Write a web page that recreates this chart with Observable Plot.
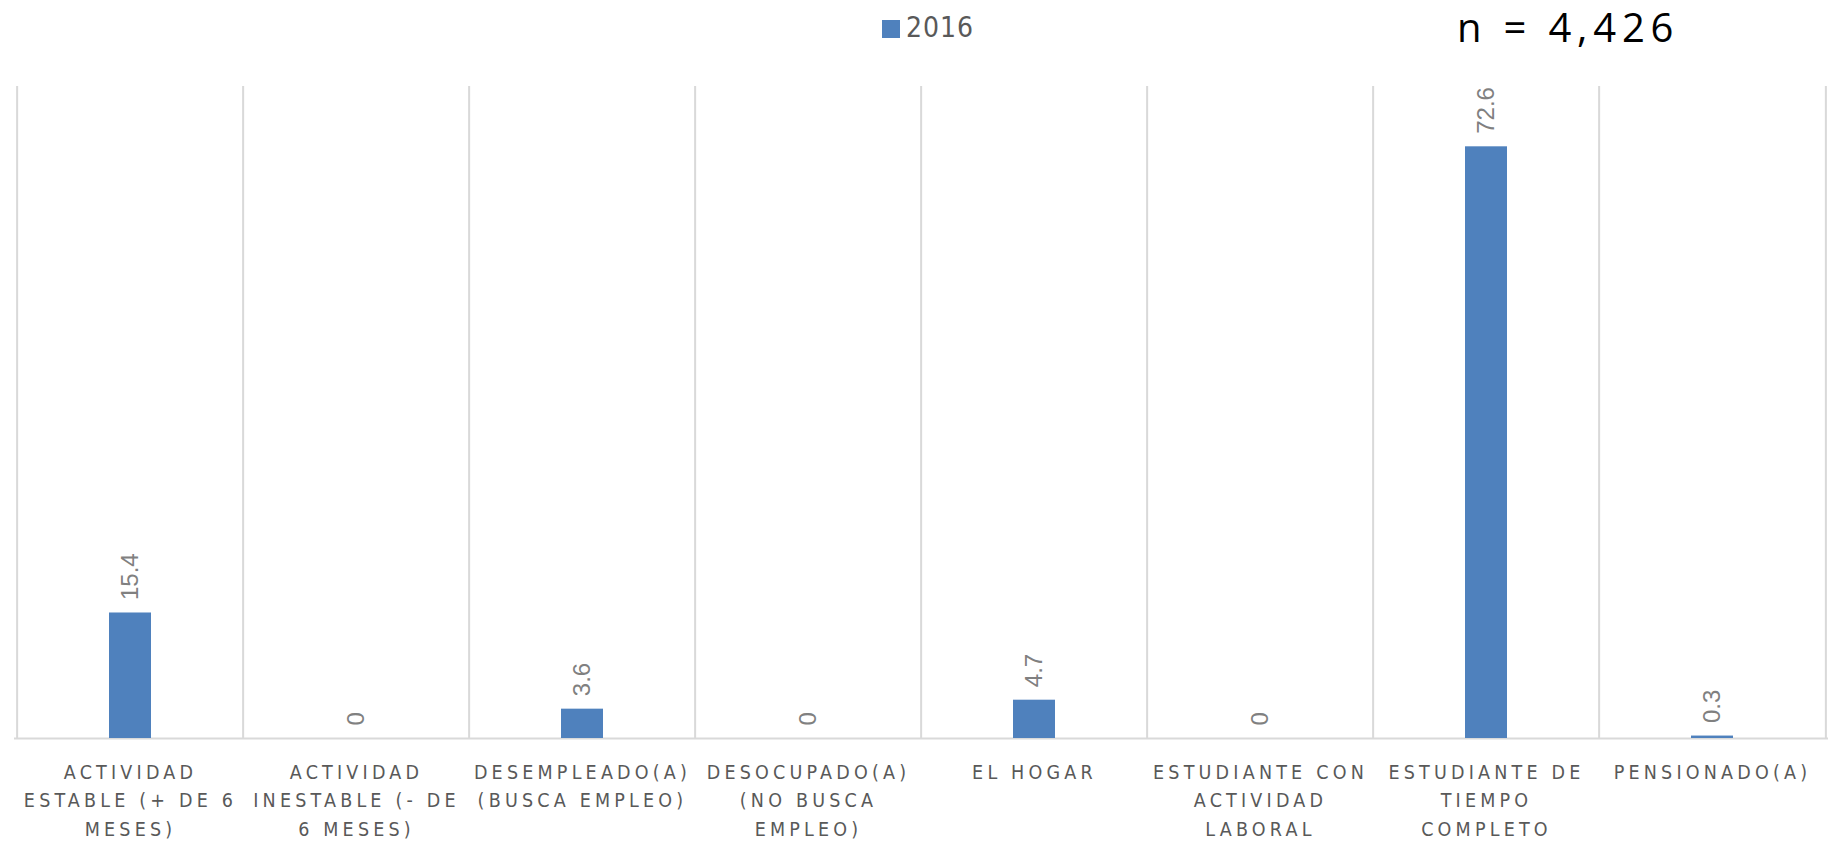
<!DOCTYPE html>
<html>
<head>
<meta charset="utf-8">
<script src="https://cdn.jsdelivr.net/npm/d3@7"></script>
<script src="https://cdn.jsdelivr.net/npm/@observablehq/plot@0.6"></script>
<style>
  body { margin: 0; background: #fff; width: 1835px; height: 841px; overflow: hidden; }
  #head { position: relative; height: 60px; width: 1835px; }
  #sw { position: absolute; left: 882px; top: 20px; width: 18px; height: 18px; background: #4f81bd; }
  #lt { position: absolute; left: 906px; top: 14px; font: 28px/1 "DejaVu Sans Condensed", sans-serif; color: #595959; letter-spacing: 1px; white-space: nowrap; }
  #n { position: absolute; left: 1457px; top: 7px; font: 40px/1 "Open Sans", sans-serif; color: #000; letter-spacing: 5.8px; white-space: nowrap; }
  #chart svg g[aria-label="x-axis tick label"] text { letter-spacing: 4.2px; }
</style>
</head>
<body>
<div id="head">
  <div id="sw"></div>
  <div id="lt">2016</div>
  <div id="n">n = 4,426</div>
</div>
<div id="chart"></div>
<script>
const categories = [
  "ACTIVIDAD ESTABLE (+ DE 6 MESES)",
  "ACTIVIDAD INESTABLE (- DE 6 MESES)",
  "DESEMPLEADO(A) (BUSCA EMPLEO)",
  "DESOCUPADO(A) (NO BUSCA EMPLEO)",
  "EL HOGAR",
  "ESTUDIANTE CON ACTIVIDAD LABORAL",
  "ESTUDIANTE DE TIEMPO COMPLETO",
  "PENSIONADO(A)"
];
const tickLabels = [
  "ACTIVIDAD\nESTABLE (+ DE 6\nMESES)",
  "ACTIVIDAD\nINESTABLE (- DE\n6 MESES)",
  "DESEMPLEADO(A)\n(BUSCA EMPLEO)",
  "DESOCUPADO(A)\n(NO BUSCA\nEMPLEO)",
  "EL HOGAR",
  "ESTUDIANTE CON\nACTIVIDAD\nLABORAL",
  "ESTUDIANTE DE\nTIEMPO\nCOMPLETO",
  "PENSIONADO(A)"
];
const values2016 = [15.4, 0, 3.6, 0, 4.7, 0, 72.6, 0.3];
const seriesName = "2016";
const yDomain = [0, 80];

const data = categories.map((c, i) => ({cat: c, value: values2016[i]}));
const labelOf = new Map(categories.map((c, i) => [c, tickLabels[i]]));

const W = 1835, H = 781, mL = 14, mR = 7, mT = 26, mB = 103;
const bw = (W - mL - mR) / categories.length;
const grid = {stroke: "#d9d9d9", strokeWidth: 2};

const chart = Plot.plot({
  width: W,
  height: H,
  marginLeft: mL,
  marginRight: mR,
  marginTop: mT,
  marginBottom: mB,
  style: {background: "#fff", fontFamily: "'DejaVu Sans Condensed', sans-serif", overflow: "visible"},
  x: {domain: categories, padding: 0, axis: null},
  y: {domain: yDomain, axis: null},
  marks: [
    Plot.ruleX(categories, {x: d => d, dx: -bw / 2, y1: yDomain[0], y2: yDomain[1], ...grid}),
    Plot.ruleX(categories.slice(-1), {x: d => d, dx: bw / 2, y1: yDomain[0], y2: yDomain[1], ...grid}),
    Plot.ruleY([0], grid),
    Plot.barY(data, {x: "cat", y: "value", fill: "#4f81bd", insetLeft: 92, insetRight: 92}),
    Plot.text(data, {
      x: "cat", y: "value", text: d => String(d.value),
      rotate: -90, textAnchor: "start", dy: -13,
      fill: "#808080", fontSize: 24, fontFamily: "'Liberation Sans', Arial, sans-serif"
    }),
    Plot.axisX({
      label: null,
      tickFormat: d => labelOf.get(d),
      tickSize: 0, tickPadding: 20,
      fontSize: 19.5, lineHeight: 1.46, fill: "#595959"
    })
  ]
});
document.getElementById("chart").appendChild(chart);
document.getElementById("lt").textContent = seriesName;
</script>
</body>
</html>
